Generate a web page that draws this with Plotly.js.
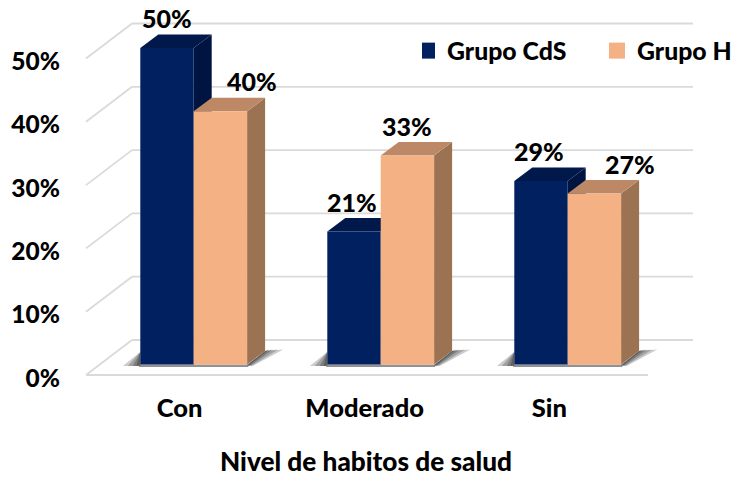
<!DOCTYPE html>
<html><head><meta charset="utf-8">
<script src="https://cdn.plot.ly/plotly-3.0.1.min.js"></script>
<style>html,body{margin:0;padding:0;background:#fff}#c{width:731px;height:477px}</style>
</head><body><div id="c"></div>
<script>
const categories = ['Con', 'Moderado', 'Sin'];
const seriesNames = ['Grupo CdS', 'Grupo H'];
const grupoCdS = [50, 21, 29];
const grupoH = [40, 33, 27];
const yTicks = [0, 10, 20, 30, 40, 50];
const axisTitle = 'Nivel de habitos de salud';

const W = 731, H = 477, FONT = 'Lato, Carlito, Calibri, sans-serif', FS = 25, WT = 900;
const PXU = 187, X0PX = 179.5, KY = 6.33, FLOOR = 375;
const plotL = 84, plotR = 648, plotB = 377;
const xr = [(plotL - X0PX) / PXU, (plotR - X0PX) / PXU];
const yr = [(FLOOR - plotB) / KY, FLOOR / KY];
const base = 10.5 / KY, dX = 18 / PXU, dY = 13.5 / KY;
const barW = 53.4 / PXU;
const offs = [(140.3 - X0PX) / PXU, (193.7 - X0PX) / PXU];
const front = ['#002060', '#F4B183'];
const topC = ['#00184A', '#BC8866'];
const sideC = ['#001442', '#9C7352'];
const all = [grupoCdS, grupoH];
const labelNudgeX = [[0, -2, -2], [32, 0, 36]];
const tickNudge = [0, -0.01, -0.022];

const pxPaper = p => (p - plotL) / (plotR - plotL);
const shapes = [];
const poly = (pts, color, opacity, xref) => shapes.push({
  type: 'path', layer: 'below', xref: xref || 'x', yref: 'y', fillcolor: color,
  opacity: opacity === undefined ? 1 : opacity, line: {width: 0},
  path: 'M' + pts.map(p => p[0] + ',' + p[1]).join('L') + 'Z'
});
const GRID = '#DADADA';
const seg = (xa, ya, xb, yb) => shapes.push({
  type: 'line', layer: 'below', xref: 'paper', yref: 'y',
  x0: pxPaper(xa), y0: ya, x1: pxPaper(xb), y1: yb, line: {color: GRID, width: 1.8}
});
const backUp = 35 / KY;
yTicks.forEach(t => {
  seg(86, t, 132, t + backUp);
  seg(132, t + backUp, 693, t + backUp);
});
seg(86, 0, 648, 0);

// floor shadows
categories.forEach((c, i) => {
  const l = X0PX + i * PXU + offs[0] * PXU;
  const r = X0PX + i * PXU + offs[1] * PXU + barW * PXU;
  const yp = p => (FLOOR - p) / KY;
  [[14, .25], [10, .28], [6, .33], [3, .4]].forEach(([k, o]) => {
    poly([[pxPaper(r), yp(365)], [pxPaper(r + 18), yp(351)], [pxPaper(r + 18 + k * 1.3), yp(349.5)], [pxPaper(r + k * .4), yp(366)]], '#333', o, 'paper');
    poly([[pxPaper(l), yp(352)], [pxPaper(l), yp(366)], [pxPaper(l - k * 1.25), yp(366)]], '#333', o, 'paper');
  });
  poly([[pxPaper(l - 2), yp(364.5)], [pxPaper(r + 2), yp(364.5)], [pxPaper(r + 1), yp(367)], [pxPaper(l - 1), yp(367)]], '#777', .8, 'paper');
});

// depth faces
all.forEach((vals, s) => {
  vals.forEach((v, i) => {
    const x0 = i + offs[s], x1 = x0 + barW, t = v + base;
    poly([[x1, t], [x1 + dX, t + dY], [x1 + dX, base + dY], [x1, base]], sideC[s]);
    poly([[x0, t], [x0 + dX, t + dY], [x1 + dX, t + dY], [x1, t]], topC[s]);
  });
});

const traces = all.map((vals, s) => ({
  type: 'bar', name: seriesNames[s], x: categories.map((c, i) => i), y: vals, base: base,
  width: barW, offset: offs[s], showlegend: false, hoverinfo: 'y',
  marker: {color: front[s], line: {width: 0}}
}));
seriesNames.forEach((n, s) => traces.push({
  type: 'scatter', mode: 'markers', name: n, x: [null], y: [null],
  marker: {symbol: 'square', size: 16, color: front[s]}, showlegend: true
}));

const annotations = [];
all.forEach((vals, s) => vals.forEach((v, i) => annotations.push({
  xref: 'x', yref: 'y', x: i + offs[s] + barW / 2, y: v + base, text: v + '%', showarrow: false,
  xanchor: 'center', yanchor: 'middle', xshift: labelNudgeX[s][i], yshift: 30,
  font: {family: FONT, size: FS, color: '#000', weight: WT}
})));

Plotly.newPlot('c', traces, {
  width: W, height: H, paper_bgcolor: '#fff', plot_bgcolor: 'rgba(0,0,0,0)',
  margin: {l: plotL, r: W - plotR, t: 0, b: H - plotB, pad: 0, autoexpand: false},
  barmode: 'overlay', shapes, annotations,
  font: {family: FONT, size: FS, color: '#000', weight: WT},
  xaxis: {range: xr, tickmode: 'array', tickvals: categories.map((c, i) => i + tickNudge[i]), ticktext: categories,
    showgrid: false, zeroline: false, showline: false, ticks: '', ticklabelstandoff: 13,
    tickfont: {family: FONT, size: 25.5, color: '#000', weight: WT},
    title: {text: axisTitle, standoff: 32, font: {family: FONT, size: 26.2, color: '#000', weight: WT}}},
  yaxis: {range: yr, tickmode: 'array', tickvals: yTicks, ticktext: yTicks.map(t => t + '%'),
    showgrid: false, zeroline: false, showline: false, ticks: '', ticklabelstandoff: 23, ticklabelshift: 3,
    tickfont: {family: FONT, size: 24.5, color: '#000', weight: WT}},
  showlegend: true,
  legend: {orientation: 'h', x: pxPaper(422), xanchor: 'left', y: (plotB - 51) / plotB, yanchor: 'middle', indentation: -15,
    entrywidthmode: 'pixels', entrywidth: 160,
    bgcolor: 'rgba(0,0,0,0)', font: {family: FONT, size: 24.8, color: '#000', weight: WT}, traceorder: 'normal'}
}, {displayModeBar: false, staticPlot: true});
</script></body></html>
